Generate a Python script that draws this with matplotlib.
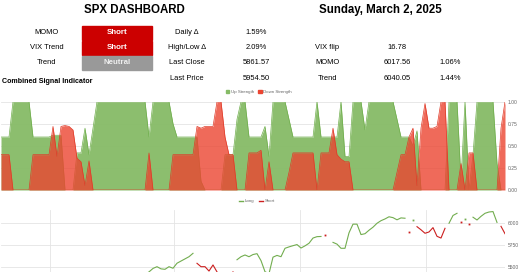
import numpy as np
import matplotlib
matplotlib.use("Agg")
import matplotlib.pyplot as plt
from matplotlib.patches import Rectangle
from matplotlib.lines import Line2D

plt.rcParams['font.family'] = ['Liberation Sans', 'DejaVu Sans']

# ---- dashboard text ----
title = 'SPX DASHBOARD'
date_str = 'Sunday, March 2, 2025'
signal_names = ['MOMO', 'VIX Trend', 'Trend']
signal_states = ['Short', 'Short', 'Neutral']
stat_names = ['Daily \u0394', 'High/Low \u0394', 'Last Close', 'Last Price']
stat_vals = ['1.59%', '2.09%', '5861.57', '5954.50']
level_names = ['VIX flip', 'MOMO', 'Trend']
level_vals = ['16.78', '6017.56', '6040.05']
level_pct = ['', '1.06%', '1.44%']

# ---- combined signal indicator (one value per day) ----
up_strength = [
    0.6, 0.6, 0.6, 1, 1, 1, 1, 1, 0.6, 0.6,
    0.6, 0.6, 0.6, 0.62, 0.62, 0.62, 0, 0, 0, 0.42,
    0.42, 0.7, 0.4, 0.7, 1, 1, 1, 1, 1, 1,
    1, 1, 1, 1, 1, 1, 1, 0.6, 1, 1,
    1, 1, 1, 0.75, 0.6, 0.6, 0.6, 0.6, 0.6, 0.6,
    0.1, 0, 0, 0, 0, 0, 0.4, 0.4, 0.4, 0.8,
    1, 1, 0.6, 0.6, 0.6, 0.6, 0.72, 0.38, 1, 1,
    1, 1, 0.8, 0.6, 0.6, 0.6, 0.6, 0.6, 0.6, 1,
    0.6, 0.6, 0.6, 0.6, 0.6, 1, 0.38, 0.38, 1, 1,
    1, 0.68, 1, 1, 1, 1, 1, 1, 1, 0.8,
    0.6, 0.6, 0.6, 0.5, 0.67, 0, 0, 0, 0, 0,
    0, 0, 1, 1, 1, 0.1, 1, 0, 0.4, 1,
    1, 1, 1, 1, 0.3, 0, 0]
down_strength = [
    0.4, 0.4, 0.4, 0, 0, 0, 0, 0, 0.4, 0.4,
    0.4, 0.4, 0.4, 0.72, 0.38, 0.72, 0.73, 0.72, 0.68, 0.36,
    0.32, 0.05, 0.33, 0, 0, 0, 0, 0, 0, 0,
    0, 0, 0, 0, 0, 0, 0, 0.42, 0, 0,
    0, 0, 0, 0.4, 0.4, 0.4, 0.4, 0.4, 0.4, 0.72,
    0.7, 0.72, 0.72, 0.72, 1, 1, 0.6, 0.4, 0.4, 0,
    0, 0, 0.42, 0.42, 0.42, 0.45, 0, 0.32, 0, 0,
    0, 0, 0.2, 0.42, 0.42, 0.42, 0.42, 0.42, 0.42, 0,
    0.42, 0.42, 0.42, 0.7, 0.4, 0.35, 0.32, 0.32, 0, 0,
    0, 0, 0, 0, 0, 0, 0, 0, 0, 0.2,
    0.4, 0.4, 0.6, 0.7, 0.05, 0.7, 0.98, 0.7, 0.7, 0.72,
    1, 1, 0, 0, 0, 0.3, 0, 0.42, 0.42, 0,
    0, 0, 0, 0, 0, 0.7, 1]

# ---- SPX price with position (L = long, S = short, - = flat) ----
price_start = 34
price = [
    5360, 5380, 5410, 5440, 5480, 5500, 5475, 5470, 5500, 5482,
    5540, 5565, 5590, 5615, 5654, 5539, 5500, 5500, 5450, 5520,
    5440, 5380, 5360, 5400, 5440, 5580, 5615, 5635, 5615, 5640,
    5650, 5570, 5442, 5420, 5610, 5630, 5615, 5712, 5728, 5742,
    5755, 5715, 5740, 5770, 5830, 5846, 5848, 5865, 5796, 5780,
    5760, 5712, 5712, 5890, 5990, 5990, 5870, 5880, 5920, 5955,
    6000, 6030, 6050, 6075, 6065, 6040, 6062, 6058, 5900, 6038,
    5961, 5925, 5885, 5900, 5950, 5850, 5830, 5942, 6000, 6090,
    6115, 6012, 6050, 5988, 6070, 6038, 6080, 6115, 6130, 6135,
    6010, 5965, 5880]
position = ('LLLLLLLLLLLLLLLSSSSSSSSSSLLLLLLLLLLLLLLLLLLLLLLS-LLLL'
            'LLLLLLLLLLLLLLLSLSSSSSSSSLLLSLSLLLLLLLSS')
month_ticks = [12.25, 43.25, 74.75, 106.25]

W, H = 520, 272
fig = plt.figure(figsize=(W / 100, H / 100), dpi=100)


def fx(x):
    return x / W


def fy(y):
    return 1 - y / H


# titles
fig.text(fx(134), fy(10), title, ha='center', va='center', fontsize=8.3, fontweight='bold')
fig.text(fx(380), fy(10), date_str, ha='center', va='center', fontsize=8.3, fontweight='bold')

state_colors = {'Short': '#cc0000', 'Long': '#38a838', 'Neutral': '#999999'}
row_y = [32.7, 47.7, 62.7, 78.3]
fs = 5.4
for k, (name, state) in enumerate(zip(signal_names, signal_states)):
    y = row_y[k]
    fig.text(fx(46.5), fy(y), name, ha='center', va='center', fontsize=fs)
    fig.patches.append(Rectangle((fx(81.7), fy(y + 7.3)), 70 / W, 14.3 / H,
                                 transform=fig.transFigure, color=state_colors[state]))
    fig.text(fx(116.7), fy(y), state, ha='center', va='center', fontsize=5.7,
             fontweight='bold', color='white' if state != 'Neutral' else '#eeeeee')

for k, (name, val) in enumerate(zip(stat_names, stat_vals)):
    fig.text(fx(187), fy(row_y[k]), name, ha='center', va='center', fontsize=fs)
    fig.text(fx(256), fy(row_y[k]), val, ha='center', va='center', fontsize=fs)

for k, (name, val, pct) in enumerate(zip(level_names, level_vals, level_pct)):
    y = row_y[k + 1]
    fig.text(fx(327.5), fy(y), name, ha='center', va='center', fontsize=fs)
    fig.text(fx(397.5), fy(y), val, ha='center', va='center', fontsize=fs)
    if pct:
        fig.text(fx(450.5), fy(y), pct, ha='center', va='center', fontsize=fs)

fig.text(fx(2), fy(81.7), 'Combined Signal Indicator', ha='left', va='center',
         fontsize=5.1, fontweight='bold')

green = '#86bb66'
red = '#eb4531'
grid_c = '#e4e4e4'
tick_c = '#666666'

# ---- signal area chart ----
x = np.arange(len(up_strength))
ax1 = fig.add_axes([fx(1), fy(190), 504 / W, 88.3 / H])
ax1.fill_between(x, up_strength, color=green, alpha=0.95, lw=0, zorder=2)
ax1.plot(x, up_strength, color='#6fae4c', lw=0.5, zorder=2)
ax1.fill_between(x, down_strength, color=red, alpha=0.8, lw=0, zorder=3)
ax1.plot(x, down_strength, color='#e03a28', lw=0.5, zorder=3)
ax1.set_xlim(0, len(x) - 1)
ax1.set_ylim(0, 1)
ax1.set_xticks([])
ax1.yaxis.tick_right()
ax1.set_yticks([0, 0.25, 0.5, 0.75, 1.0])
ax1.set_yticklabels(['0.00', '0.25', '0.50', '0.75', '1.00'])
ax1.tick_params(axis='y', length=0, pad=2, labelsize=3.6, labelcolor=tick_c)
ax1.grid(axis='y', color=grid_c, lw=0.6, zorder=0)
for s in ax1.spines.values():
    s.set_visible(False)

fig.legend([Rectangle((0, 0), 1, 1, color=green), Rectangle((0, 0), 1, 1, color=red)],
           ['Up Strength', 'Down Strength'], loc='center', bbox_to_anchor=(fx(259), fy(92)),
           ncol=2, fontsize=3.2, frameon=False, handlelength=0.7, handleheight=0.7,
           columnspacing=1.0, handletextpad=0.4, labelcolor=tick_c)

# ---- price chart (long / short) ----
full_price = np.full(len(x), np.nan)
full_price[price_start:price_start + len(price)] = price
pos = np.array(['-'] * price_start + list(position))
long_line = np.where(pos == 'L', full_price, np.nan)
short_line = np.where(pos == 'S', full_price, np.nan)

ax2 = fig.add_axes([fx(1), fy(320), 504 / W, 110 / H])
for series, col in [(long_line, '#72ad4f'), (short_line, '#cc1f1f')]:
    ax2.plot(x, series, color=col, lw=0.8, zorder=3)
    ok = ~np.isnan(series)
    prev_ok = np.r_[False, ok[:-1]]
    next_ok = np.r_[ok[1:], False]
    lone = ok & ~prev_ok & ~next_ok
    ax2.plot(x[lone], series[lone], ls='none', marker='s', ms=1.3, mew=0, color=col, zorder=3)
ax2.set_xlim(0, len(x) - 1)
ax2.set_ylim(4886, 6153)
ax2.set_xticks(month_ticks)
ax2.tick_params(axis='x', labelbottom=False)
ax2.yaxis.tick_right()
ax2.set_yticks([5500, 5750, 6000])
ax2.tick_params(axis='both', length=0, pad=2, labelsize=3.6, labelcolor=tick_c)
ax2.grid(color=grid_c, lw=0.6, zorder=0)
for s in ax2.spines.values():
    s.set_visible(False)

fig.legend([Line2D([], [], color='#72ad4f', lw=1), Line2D([], [], color='#cc1f1f', lw=1)],
           ['Long', 'Short'], loc='center', bbox_to_anchor=(fx(257), fy(201)),
           ncol=2, fontsize=3.2, frameon=False, handlelength=0.8,
           columnspacing=1.2, handletextpad=0.4, labelcolor=tick_c)

fig.savefig('out.png', dpi=100)
